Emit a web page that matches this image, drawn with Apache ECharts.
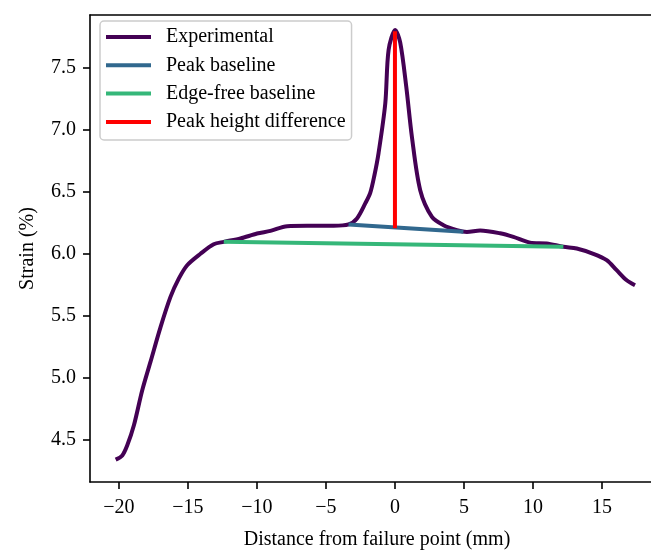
<!DOCTYPE html>
<html><head><meta charset="utf-8">
<script src="https://cdn.jsdelivr.net/npm/echarts@6/dist/echarts.min.js"></script>
<style>html,body{margin:0;padding:0;background:#fff}#c{width:651px;height:554px}</style>
</head><body><div id="c"></div>
<script>
// Experimental strain profile
const expX = [-20.23,-19.75,-19.39,-18.91,-18.31,-17.71,-16.98,-16.26,-15.66,-15.05,-14.09,-13.13,-12.40,-11.19,-9.99,-9.02,-7.81,-6.37,-4.44,-3.36,-2.75,-2.15,-1.79,-1.49,-1.19,-0.70,-0.46,0.02,0.38,0.82,1.23,1.83,2.68,3.52,4.49,5.21,6.17,7.62,8.58,9.79,10.99,12.2,13.17,14.37,15.34,16.06,16.79,17.39];
const expY = [4.344,4.378,4.459,4.62,4.90,5.13,5.41,5.653,5.80,5.908,6.00,6.077,6.096,6.123,6.163,6.184,6.222,6.225,6.225,6.236,6.284,6.405,6.49,6.63,6.808,7.21,7.64,7.80,7.70,7.344,6.94,6.512,6.297,6.23,6.19,6.175,6.187,6.165,6.136,6.09,6.083,6.056,6.043,6.00,5.949,5.868,5.787,5.747];
// Peak baseline
const peakBaseX = [-3.36, 4.96];
const peakBaseY = [6.236, 6.177];
// Edge-free baseline
const edgeBaseX = [-12.4, 12.2];
const edgeBaseY = [6.097, 6.056];
// Peak height difference
const diffX = [0, 0];
const diffY = [6.206, 7.79];
// Tick labels
const xTicks = [-20,-15,-10,-5,0,5,10,15];
const yTicks = [4.5,5.0,5.5,6.0,6.5,7.0,7.5];
const xLim = [-22.09, 19.49];
const yLim = [4.164, 7.921];

const pairs = (xs, ys) => xs.map((x, i) => [x, ys[i]]);
const FONT = 'Liberation Serif';
const fmtX = v => v < 0 ? '\u2212' + Math.abs(v) : String(v);

const chart = echarts.init(document.getElementById('c'), null, {renderer: 'canvas'});
const axisLineStyle = {color: '#000', width: 1.6};
chart.setOption({
  animation: false,
  backgroundColor: '#fff',
  textStyle: {fontFamily: FONT},
  grid: {left: 90, top: 15, width: 574, height: 467, containLabel: false, outerBoundsMode: 'none'},
  legend: {
    orient: 'vertical', left: 100, top: 21,
    data: ['Experimental','Peak baseline','Edge-free baseline','Peak height difference'],
    icon: 'rect', itemWidth: 45, itemHeight: 4, itemGap: 8.3,
    padding: [6, 6, 8, 6],
    backgroundColor: 'rgba(255,255,255,0.8)', borderColor: '#cccccc', borderWidth: 1.5, borderRadius: 4,
    textStyle: {fontFamily: FONT, fontSize: 20, color: '#000', lineHeight: 20, padding: [0,0,0,10]}
  },
  xAxis: [{
    type: 'value', min: xLim[0], max: xLim[1],
    name: 'Distance from failure point (mm)', nameLocation: 'middle', nameGap: 48,
    nameTextStyle: {fontFamily: FONT, fontSize: 20, color: '#000', verticalAlign: 'top'},
    axisLine: {show: true, onZero: false, lineStyle: axisLineStyle},
    axisTick: {show: true, length: 7, lineStyle: {color: '#000', width: 1.6}, customValues: xTicks},
    axisLabel: {fontFamily: FONT, fontSize: 20, color: '#000', margin: 16, customValues: xTicks, formatter: fmtX},
    splitLine: {show: false}
  }, {
    type: 'value', position: 'top', min: xLim[0], max: xLim[1],
    axisLine: {show: true, onZero: false, lineStyle: axisLineStyle},
    axisTick: {show: false}, axisLabel: {show: false}, splitLine: {show: false}
  }],
  yAxis: [{
    type: 'value', min: yLim[0], max: yLim[1],
    name: 'Strain (%)', nameLocation: 'middle', nameGap: 52,
    nameTextStyle: {fontFamily: FONT, fontSize: 20, color: '#000'},
    axisLine: {show: true, onZero: false, lineStyle: axisLineStyle},
    axisTick: {show: true, length: 7, lineStyle: {color: '#000', width: 1.6}, customValues: yTicks},
    axisLabel: {fontFamily: FONT, fontSize: 20, color: '#000', margin: 14, customValues: yTicks, formatter: v => v.toFixed(1)},
    splitLine: {show: false}
  }, {
    type: 'value', position: 'right', min: yLim[0], max: yLim[1],
    axisLine: {show: true, onZero: false, lineStyle: axisLineStyle},
    axisTick: {show: false}, axisLabel: {show: false}, splitLine: {show: false}
  }],
  series: [
    {name: 'Experimental', type: 'line', data: pairs(expX, expY), showSymbol: false, symbol: 'none',
     smooth: 0.3,
     color: '#440154', lineStyle: {color: '#440154', width: 4}, z: 2},
    {name: 'Peak baseline', type: 'line', data: pairs(peakBaseX, peakBaseY), showSymbol: false, symbol: 'none',
     color: '#31688e', lineStyle: {color: '#31688e', width: 4}, z: 3},
    {name: 'Edge-free baseline', type: 'line', data: pairs(edgeBaseX, edgeBaseY), showSymbol: false, symbol: 'none',
     color: '#35b779', lineStyle: {color: '#35b779', width: 4}, z: 3},
    {name: 'Peak height difference', type: 'line', data: pairs(diffX, diffY), showSymbol: false, symbol: 'none',
     color: '#ff0000', lineStyle: {color: '#ff0000', width: 4}, z: 4}
  ]
});
</script></body></html>
